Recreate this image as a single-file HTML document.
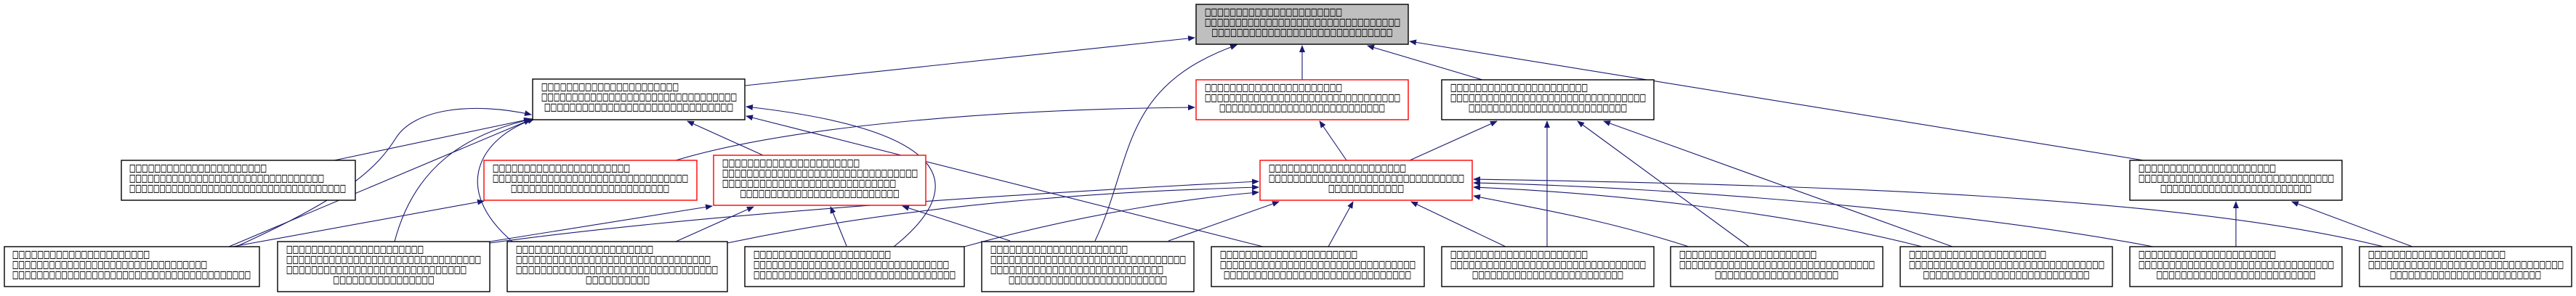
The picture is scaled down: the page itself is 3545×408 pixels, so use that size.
<!DOCTYPE html>
<html><head><meta charset="utf-8"><style>
html,body{margin:0;padding:0;background:#fff;}
svg{display:block;}
text{font-family:"DejaVu Sans","Liberation Sans",sans-serif;font-size:14px;fill:#000;stroke:#000;stroke-width:0.3;}
.b{fill:#fff;stroke:#000;stroke-width:1.4;}
.r{fill:#fff;stroke:#ff0000;stroke-width:1.4;}
.g{fill:#bfbfbf;stroke:#000;stroke-width:1.4;}
.e{fill:none;stroke:#191970;stroke-width:1.1;marker-end:url(#ah);}
</style></head><body>
<svg width="3545" height="408" viewBox="0 0 3545 408" xmlns="http://www.w3.org/2000/svg">
<defs><marker id="ah" markerWidth="10" markerHeight="8" refX="9" refY="4" orient="auto" markerUnits="userSpaceOnUse"><polygon points="0,0 10,4 0,8" fill="#191970"/></marker></defs>

<path class="e" d="M1025,118 L1644,52"/>
<path class="e" d="M1792,110 L1792,63"/>
<path class="e" d="M2040,110 L1882,63"/>
<path class="e" d="M2950,221 L1940,57"/>
<path class="e" d="M1853,221 L1816,167"/>
<path class="e" d="M1940,221 L2060,167"/>
<path class="e" d="M930,221 C1100,170 1400,150 1644,148"/>
<path class="e" d="M1050,214 L946,167"/>
<path class="e" d="M460,221 L730,164"/>
<path class="e" d="M315,340 L730,165"/>
<path class="e" d="M325,340 C480,270 520,230 545,190 S650,140 731,158"/>
<path class="e" d="M320,340 L666,277"/>
<path class="e" d="M543,333 C570,230 640,185 732,164"/>
<path class="e" d="M674,333 L980,284"/>
<path class="e" d="M674,335 C1000,290 1500,262 1732,250"/>
<path class="e" d="M705,333 C620,260 660,190 735,164"/>
<path class="e" d="M930,333 L1037,285"/>
<path class="e" d="M1001,335 C1300,272 1600,262 1732,258"/>
<path class="e" d="M1230,340 C1330,260 1320,180 1027,147"/>
<path class="e" d="M1327,340 C1500,292 1650,272 1732,265"/>
<path class="e" d="M1165,339 L1143,285"/>
<path class="e" d="M1390,332 L1242,284"/>
<path class="e" d="M1507,332 C1560,220 1540,120 1702,62"/>
<path class="e" d="M1608,332 L1760,278"/>
<path class="e" d="M1738,340 L1027,160"/>
<path class="e" d="M1828,340 L1862,278"/>
<path class="e" d="M2072,340 L1942,278"/>
<path class="e" d="M2129,340 L2129,167"/>
<path class="e" d="M2324,340 C2200,300 2100,285 2028,270"/>
<path class="e" d="M2407,340 L2171,167"/>
<path class="e" d="M2645,340 C2450,290 2200,265 2028,258"/>
<path class="e" d="M2687,340 L2207,167"/>
<path class="e" d="M2963,340 C2700,290 2300,258 2028,252"/>
<path class="e" d="M3077,340 L3077,278"/>
<path class="e" d="M3280,340 C3000,270 2500,255 2028,247"/>
<path class="e" d="M3320,340 L3154,278"/>

<g>
<rect class="g" x="1646" y="6" width="292" height="55"/>
<text x="1658" y="21" textLength="189" lengthAdjust="spacingAndGlyphs">□□□□□□□□□□□□□□□□□□□□□□</text>
<text x="1658" y="35" textLength="269" lengthAdjust="spacingAndGlyphs">□□□□□□□□□□□□□□□□□□□□□□□□□□□□□□□□</text>
<text x="1792" y="49" text-anchor="middle" textLength="249" lengthAdjust="spacingAndGlyphs">□□□□□□□□□□□□□□□□□□□□□□□□□□□□□</text>
</g>
<g>
<rect class="b" x="733" y="109" width="292" height="56"/>
<text x="745" y="124" textLength="189" lengthAdjust="spacingAndGlyphs">□□□□□□□□□□□□□□□□□□□□□□</text>
<text x="745" y="138" textLength="269" lengthAdjust="spacingAndGlyphs">□□□□□□□□□□□□□□□□□□□□□□□□□□□□□□□□</text>
<text x="879" y="152" text-anchor="middle" textLength="260" lengthAdjust="spacingAndGlyphs">□□□□□□□□□□□□□□□□□□□□□□□□□□□□□□</text>
</g>
<g>
<rect class="r" x="1646" y="110" width="292" height="55"/>
<text x="1658" y="125" textLength="189" lengthAdjust="spacingAndGlyphs">□□□□□□□□□□□□□□□□□□□□□□</text>
<text x="1658" y="139" textLength="269" lengthAdjust="spacingAndGlyphs">□□□□□□□□□□□□□□□□□□□□□□□□□□□□□□□□</text>
<text x="1792" y="153" text-anchor="middle" textLength="228" lengthAdjust="spacingAndGlyphs">□□□□□□□□□□□□□□□□□□□□□□□□□□□</text>
</g>
<g>
<rect class="b" x="1984" y="110" width="292" height="55"/>
<text x="1996" y="125" textLength="189" lengthAdjust="spacingAndGlyphs">□□□□□□□□□□□□□□□□□□□□□□</text>
<text x="1996" y="139" textLength="269" lengthAdjust="spacingAndGlyphs">□□□□□□□□□□□□□□□□□□□□□□□□□□□□□□□□</text>
<text x="2130" y="153" text-anchor="middle" textLength="218" lengthAdjust="spacingAndGlyphs">□□□□□□□□□□□□□□□□□□□□□□□□□□</text>
</g>
<g>
<rect class="b" x="167" y="221" width="322" height="55"/>
<text x="178" y="236" textLength="189" lengthAdjust="spacingAndGlyphs">□□□□□□□□□□□□□□□□□□□□□□</text>
<text x="178" y="250" textLength="268" lengthAdjust="spacingAndGlyphs">□□□□□□□□□□□□□□□□□□□□□□□□□□□□□□□□</text>
<text x="178" y="264" textLength="298" lengthAdjust="spacingAndGlyphs">□□□□□□□□□□□□□□□□□□□□□□□□□□□□□□□□□□□□</text>
</g>
<g>
<rect class="r" x="666" y="221" width="293" height="55"/>
<text x="678" y="236" textLength="189" lengthAdjust="spacingAndGlyphs">□□□□□□□□□□□□□□□□□□□□□□</text>
<text x="678" y="250" textLength="269" lengthAdjust="spacingAndGlyphs">□□□□□□□□□□□□□□□□□□□□□□□□□□□□□□□□</text>
<text x="812" y="264" text-anchor="middle" textLength="218" lengthAdjust="spacingAndGlyphs">□□□□□□□□□□□□□□□□□□□□□□□□□□</text>
</g>
<g>
<rect class="r" x="1734" y="221" width="292" height="55"/>
<text x="1746" y="236" textLength="189" lengthAdjust="spacingAndGlyphs">□□□□□□□□□□□□□□□□□□□□□□</text>
<text x="1746" y="250" textLength="269" lengthAdjust="spacingAndGlyphs">□□□□□□□□□□□□□□□□□□□□□□□□□□□□□□□□</text>
<text x="1880" y="264" text-anchor="middle" textLength="104" lengthAdjust="spacingAndGlyphs">□□□□□□□□□□□□</text>
</g>
<g>
<rect class="b" x="2931" y="221" width="292" height="55"/>
<text x="2943" y="236" textLength="189" lengthAdjust="spacingAndGlyphs">□□□□□□□□□□□□□□□□□□□□□□</text>
<text x="2943" y="250" textLength="269" lengthAdjust="spacingAndGlyphs">□□□□□□□□□□□□□□□□□□□□□□□□□□□□□□□□</text>
<text x="3077" y="264" text-anchor="middle" textLength="208" lengthAdjust="spacingAndGlyphs">□□□□□□□□□□□□□□□□□□□□□□□□□</text>
</g>

<g>
<rect class="r" x="982" y="214" width="292" height="69"/>
<text x="994" y="229" textLength="189" lengthAdjust="spacingAndGlyphs">□□□□□□□□□□□□□□□□□□□□□□</text>
<text x="994" y="243" textLength="269" lengthAdjust="spacingAndGlyphs">□□□□□□□□□□□□□□□□□□□□□□□□□□□□□□□□</text>
<text x="994" y="257" textLength="239" lengthAdjust="spacingAndGlyphs">□□□□□□□□□□□□□□□□□□□□□□□□□□□□</text>
<text x="1128" y="271" text-anchor="middle" textLength="219" lengthAdjust="spacingAndGlyphs">□□□□□□□□□□□□□□□□□□□□□□□□□□</text>
</g>

<g>
<rect class="b" x="6" y="340" width="351" height="55"/>
<text x="17" y="355" textLength="189" lengthAdjust="spacingAndGlyphs">□□□□□□□□□□□□□□□□□□□□□□</text>
<text x="17" y="369" textLength="268" lengthAdjust="spacingAndGlyphs">□□□□□□□□□□□□□□□□□□□□□□□□□□□□□□□□</text>
<text x="17" y="383" textLength="328" lengthAdjust="spacingAndGlyphs">□□□□□□□□□□□□□□□□□□□□□□□□□□□□□□□□□□□□□□□</text>
</g>
<g>
<rect class="b" x="382" y="333" width="292" height="69"/>
<text x="394" y="348" textLength="189" lengthAdjust="spacingAndGlyphs">□□□□□□□□□□□□□□□□□□□□□□</text>
<text x="394" y="362" textLength="268" lengthAdjust="spacingAndGlyphs">□□□□□□□□□□□□□□□□□□□□□□□□□□□□□□□□</text>
<text x="394" y="376" textLength="248" lengthAdjust="spacingAndGlyphs">□□□□□□□□□□□□□□□□□□□□□□□□□□□□□</text>
<text x="528" y="390" text-anchor="middle" textLength="139" lengthAdjust="spacingAndGlyphs">□□□□□□□□□□□□□□□□</text>
</g>
<g>
<rect class="b" x="698" y="333" width="303" height="69"/>
<text x="710" y="348" textLength="189" lengthAdjust="spacingAndGlyphs">□□□□□□□□□□□□□□□□□□□□□□</text>
<text x="710" y="362" textLength="268" lengthAdjust="spacingAndGlyphs">□□□□□□□□□□□□□□□□□□□□□□□□□□□□□□□□</text>
<text x="710" y="376" textLength="278" lengthAdjust="spacingAndGlyphs">□□□□□□□□□□□□□□□□□□□□□□□□□□□□□□□□□</text>
<text x="850" y="390" text-anchor="middle" textLength="88" lengthAdjust="spacingAndGlyphs">□□□□□□□□□□</text>
</g>
<g>
<rect class="b" x="1025" y="340" width="302" height="55"/>
<text x="1037" y="355" textLength="189" lengthAdjust="spacingAndGlyphs">□□□□□□□□□□□□□□□□□□□□□□</text>
<text x="1037" y="369" textLength="269" lengthAdjust="spacingAndGlyphs">□□□□□□□□□□□□□□□□□□□□□□□□□□□□□□□□</text>
<text x="1037" y="383" textLength="278" lengthAdjust="spacingAndGlyphs">□□□□□□□□□□□□□□□□□□□□□□□□□□□□□□□□□</text>
</g>
<g>
<rect class="b" x="1351" y="333" width="292" height="69"/>
<text x="1363" y="348" textLength="189" lengthAdjust="spacingAndGlyphs">□□□□□□□□□□□□□□□□□□□□□□</text>
<text x="1363" y="362" textLength="269" lengthAdjust="spacingAndGlyphs">□□□□□□□□□□□□□□□□□□□□□□□□□□□□□□□□</text>
<text x="1363" y="376" textLength="238" lengthAdjust="spacingAndGlyphs">□□□□□□□□□□□□□□□□□□□□□□□□□□□□</text>
<text x="1497" y="390" text-anchor="middle" textLength="218" lengthAdjust="spacingAndGlyphs">□□□□□□□□□□□□□□□□□□□□□□□□□□</text>
</g>
<g>
<rect class="b" x="1667" y="340" width="293" height="55"/>
<text x="1679" y="355" textLength="189" lengthAdjust="spacingAndGlyphs">□□□□□□□□□□□□□□□□□□□□□□</text>
<text x="1679" y="369" textLength="269" lengthAdjust="spacingAndGlyphs">□□□□□□□□□□□□□□□□□□□□□□□□□□□□□□□□</text>
<text x="1813" y="383" text-anchor="middle" textLength="258" lengthAdjust="spacingAndGlyphs">□□□□□□□□□□□□□□□□□□□□□□□□□□□□□□</text>
</g>
<g>
<rect class="b" x="1984" y="340" width="292" height="55"/>
<text x="1996" y="355" textLength="189" lengthAdjust="spacingAndGlyphs">□□□□□□□□□□□□□□□□□□□□□□</text>
<text x="1996" y="369" textLength="269" lengthAdjust="spacingAndGlyphs">□□□□□□□□□□□□□□□□□□□□□□□□□□□□□□□□</text>
<text x="2130" y="383" text-anchor="middle" textLength="208" lengthAdjust="spacingAndGlyphs">□□□□□□□□□□□□□□□□□□□□□□□□□</text>
</g>
<g>
<rect class="b" x="2299" y="340" width="292" height="55"/>
<text x="2311" y="355" textLength="189" lengthAdjust="spacingAndGlyphs">□□□□□□□□□□□□□□□□□□□□□□</text>
<text x="2311" y="369" textLength="269" lengthAdjust="spacingAndGlyphs">□□□□□□□□□□□□□□□□□□□□□□□□□□□□□□□□</text>
<text x="2445" y="383" text-anchor="middle" textLength="170" lengthAdjust="spacingAndGlyphs">□□□□□□□□□□□□□□□□□□□□</text>
</g>
<g>
<rect class="b" x="2615" y="340" width="292" height="55"/>
<text x="2627" y="355" textLength="189" lengthAdjust="spacingAndGlyphs">□□□□□□□□□□□□□□□□□□□□□□</text>
<text x="2627" y="369" textLength="269" lengthAdjust="spacingAndGlyphs">□□□□□□□□□□□□□□□□□□□□□□□□□□□□□□□□</text>
<text x="2761" y="383" text-anchor="middle" textLength="229" lengthAdjust="spacingAndGlyphs">□□□□□□□□□□□□□□□□□□□□□□□□□□□</text>
</g>
<g>
<rect class="b" x="2931" y="340" width="292" height="55"/>
<text x="2943" y="355" textLength="189" lengthAdjust="spacingAndGlyphs">□□□□□□□□□□□□□□□□□□□□□□</text>
<text x="2943" y="369" textLength="269" lengthAdjust="spacingAndGlyphs">□□□□□□□□□□□□□□□□□□□□□□□□□□□□□□□□</text>
<text x="3077" y="383" text-anchor="middle" textLength="219" lengthAdjust="spacingAndGlyphs">□□□□□□□□□□□□□□□□□□□□□□□□□□</text>
</g>
<g>
<rect class="b" x="3247" y="340" width="292" height="55"/>
<text x="3259" y="355" textLength="189" lengthAdjust="spacingAndGlyphs">□□□□□□□□□□□□□□□□□□□□□□</text>
<text x="3259" y="369" textLength="269" lengthAdjust="spacingAndGlyphs">□□□□□□□□□□□□□□□□□□□□□□□□□□□□□□□□</text>
<text x="3393" y="383" text-anchor="middle" textLength="208" lengthAdjust="spacingAndGlyphs">□□□□□□□□□□□□□□□□□□□□□□□□□</text>
</g>
</svg>
</body></html>
